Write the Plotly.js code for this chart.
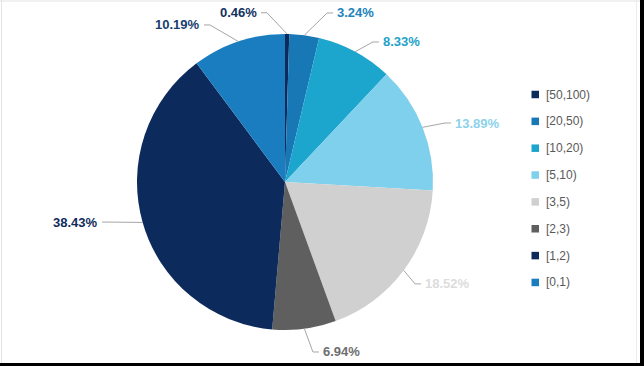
<!DOCTYPE html>
<html>
<head>
<meta charset="utf-8">
<script src="https://cdn.plot.ly/plotly-3.0.1.min.js"></script>
<style>
  html, body { margin: 0; padding: 0; background: #000; overflow: hidden; }
  #chart { width: 640px; height: 363px; background: #fff; }
</style>
</head>
<body>
<div id="chart"></div>
<script>
// ---- data ----
const categories = ['[50,100)', '[20,50)', '[10,20)', '[5,10)', '[3,5)', '[2,3)', '[1,2)', '[0,1)'];
const shares = [0.46, 3.24, 8.33, 13.89, 18.52, 6.94, 38.43, 10.19];
const shareLabels = ['0.46%', '3.24%', '8.33%', '13.89%', '18.52%', '6.94%', '38.43%', '10.19%'];

// ---- styles ----
const sliceColors = ['#0c2a5c', '#1877b5', '#1ca5cd', '#7fd0ec', '#d0d0d0', '#5f5f5f', '#0c2a5c', '#1a7dc0'];
const labelColors = ['#12315f', '#2083ba', '#22a2c8', '#8dd2ea', '#dcdcdc', '#6e6e6e', '#0f2c5b', '#17406e'];
// label placement tweaks (avoid overlaps, like the original)
const labelAngleShift = [-6.9, 6.5, 3.8, 1.45, 1.45, -1.8, 3.1, -7.2];
const labelRadiusScale = [1.15, 1.177, 1.117, 1.152, 1.116, 1.164, 1.226, 1.176];

const W = 640, H = 363;
const CX = 285, CY = 182, R = 148;
const px = x => x / W;
const py = y => 1 - y / H;

const total = shares.reduce((a, b) => a + b, 0);
const shapes = [];
const annotations = [];
let cum = 0;
shares.forEach((v, i) => {
  const midFrac = (cum + v / 2) / total;
  cum += v;
  const a = midFrac * 2 * Math.PI;
  const ex = CX + R * Math.sin(a), ey = CY - R * Math.cos(a);
  const a2 = a + labelAngleShift[i] * Math.PI / 180;
  const rl = R * labelRadiusScale[i];
  const bx = CX + rl * Math.sin(a2), by = CY - rl * Math.cos(a2);
  const right = bx >= CX;
  const tx = bx + (right ? 6 : -6);
  shapes.push({
    type: 'path', xref: 'paper', yref: 'paper',
    path: `M${px(ex)},${py(ey)} L${px(bx)},${py(by)} L${px(tx)},${py(by)}`,
    line: { color: '#a6a6a6', width: 1 }
  });
  annotations.push({
    xref: 'paper', yref: 'paper', x: px(tx + (right ? 2 : -2)), y: py(by),
    xanchor: right ? 'left' : 'right', yanchor: 'middle', showarrow: false,
    text: shareLabels[i],
    font: { family: 'Liberation Sans, Arial, sans-serif', size: 13, weight: 'bold', color: labelColors[i] }
  });
});

// legend (manual, to match small square markers and spacing)
const LX = 531.5, LY0 = 94.5, LDY = 26.85, SQ = 7.5;
categories.forEach((c, i) => {
  const y = LY0 + i * LDY;
  shapes.push({
    type: 'rect', xref: 'paper', yref: 'paper',
    x0: px(LX), x1: px(LX + SQ), y0: py(y - SQ / 2), y1: py(y + SQ / 2),
    fillcolor: sliceColors[i], line: { width: 0 }
  });
  annotations.push({
    xref: 'paper', yref: 'paper', x: px(LX + SQ + 4.5), y: py(y),
    xanchor: 'left', yanchor: 'middle', showarrow: false, text: c,
    font: { family: 'Liberation Sans, Arial, sans-serif', size: 12, color: '#595959' }
  });
});

// faint frame lines
shapes.push({ type: 'line', xref: 'paper', yref: 'paper', x0: 0, x1: 1, y0: py(1), y1: py(1), line: { color: '#e3e3e3', width: 1 } });
shapes.push({ type: 'line', xref: 'paper', yref: 'paper', x0: px(1.5), x1: px(1.5), y0: 0, y1: 1, line: { color: '#e3e3e3', width: 1 } });
shapes.push({ type: 'line', xref: 'paper', yref: 'paper', x0: px(636.5), x1: px(636.5), y0: 0, y1: 1, line: { color: '#ececec', width: 1 } });

const trace = {
  type: 'pie',
  values: shares,
  labels: categories,
  sort: false,
  direction: 'clockwise',
  rotation: 0,
  textinfo: 'none',
  hoverinfo: 'label+percent',
  showlegend: false,
  marker: { colors: sliceColors, line: { width: 0 } },
  domain: { x: [px(CX - R), px(CX + R)], y: [py(CY + R), py(CY - R)] }
};

Plotly.newPlot('chart', [trace], {
  width: W, height: H,
  margin: { l: 0, r: 0, t: 0, b: 0 },
  paper_bgcolor: '#ffffff',
  showlegend: false,
  shapes: shapes,
  annotations: annotations
}, { displayModeBar: false, staticPlot: true });
</script>
</body>
</html>
